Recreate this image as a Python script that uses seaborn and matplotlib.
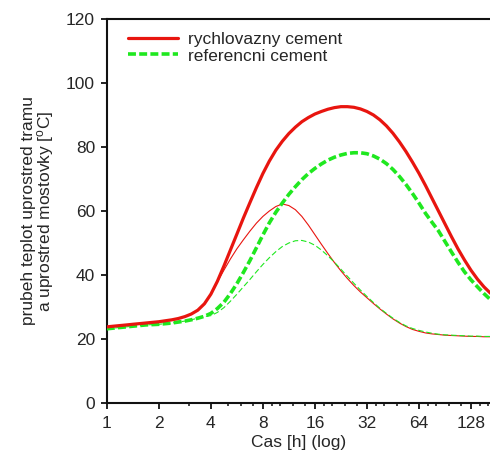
import matplotlib
matplotlib.use("Agg")
import matplotlib.pyplot as plt
from matplotlib.ticker import FixedLocator, NullFormatter
import seaborn as sns
import pandas as pd

# time samples [h], eight per doubling
hours = [1, 1.09, 1.19, 1.30, 1.41, 1.54, 1.68, 1.83,
         2, 2.18, 2.38, 2.59, 2.83, 3.08, 3.36, 3.67,
         4, 4.36, 4.76, 5.19, 5.66, 6.17, 6.73, 7.34,
         8, 8.72, 9.51, 10.37, 11.31, 12.34, 13.45, 14.67,
         16, 17.45, 19.03, 20.75, 22.63, 24.68, 26.91, 29.34,
         32, 34.9, 38.05, 41.5, 45.25, 49.35, 53.82, 58.69,
         64, 69.8, 76.1, 83.0, 90.5, 98.7, 107.6, 117.4,
         128, 139.6, 152.2, 166]

# temperature in the middle of the beam [degC]
rapid_beam = [23.8, 24.0, 24.2, 24.4, 24.6, 24.8, 25.0, 25.2,
              25.4, 25.7, 26.0, 26.4, 27.0, 27.8, 29.0, 31.0,
              34.0, 38.0, 42.8, 47.8, 52.8, 57.8, 62.6, 67.3,
              71.7, 75.6, 79.0, 81.8, 84.2, 86.2, 87.9, 89.2,
              90.3, 91.1, 91.8, 92.3, 92.6, 92.6, 92.4, 91.9,
              91.1, 90.0, 88.5, 86.6, 84.3, 81.6, 78.6, 75.3,
              71.8, 68.0, 64.0, 60.0, 56.0, 52.0, 48.2, 44.7,
              41.5, 38.7, 36.3, 34.3]
ref_beam = [23.2, 23.4, 23.6, 23.8, 24.0, 24.2, 24.4, 24.5,
            24.6, 24.8, 25.0, 25.3, 25.6, 26.0, 26.5, 27.1,
            28.0, 29.5, 31.5, 34.2, 37.3, 40.8, 44.5, 48.5,
            52.5, 56.3, 59.6, 62.5, 65.2, 67.6, 69.8, 71.7,
            73.3, 74.7, 75.9, 76.8, 77.5, 78.0, 78.2, 78.2,
            77.9, 77.2, 76.2, 74.8, 73.0, 70.8, 68.3, 65.5,
            62.5, 59.3, 56.5, 53.8, 50.5, 47.2, 44.0, 41.0,
            38.5, 36.3, 34.2, 32.3]

# temperature in the middle of the deck slab [degC]
rapid_deck = [23.8, 24.0, 24.2, 24.4, 24.6, 24.8, 25.0, 25.2,
              25.4, 25.7, 26.0, 26.4, 27.0, 27.8, 29.0, 31.0,
              34.0, 37.8, 41.5, 45.0, 48.2, 51.0, 53.7, 56.2,
              58.3, 60.0, 61.4, 62.2, 61.7, 60.4, 58.3, 55.6,
              52.6, 49.6, 46.7, 43.9, 41.3, 38.9, 36.7, 34.7,
              32.9, 31.1, 29.4, 27.8, 26.3, 25.0, 23.9, 23.0,
              22.4, 21.9, 21.6, 21.4, 21.2, 21.1, 21.0, 20.9,
              20.8, 20.8, 20.7, 20.7]
ref_deck = [23.2, 23.4, 23.6, 23.8, 24.0, 24.2, 24.4, 24.5,
            24.6, 24.8, 25.0, 25.3, 25.6, 26.0, 26.5, 27.0,
            27.3, 28.3, 29.8, 31.8, 34.0, 36.3, 38.6, 41.0,
            43.3, 45.4, 47.3, 48.9, 50.0, 50.7, 50.8, 50.3,
            49.3, 47.8, 46.0, 44.0, 41.8, 39.6, 37.4, 35.3,
            33.3, 31.4, 29.6, 28.0, 26.5, 25.2, 24.1, 23.3,
            22.7, 22.2, 21.8, 21.5, 21.3, 21.2, 21.1, 21.0,
            20.9, 20.9, 20.8, 20.8]

legend_labels = ["rychlovazny cement", "referencni cement"]
x_ticks = [1, 2, 4, 8, 16, 32, 64, 128]
x_minor = [3, 5, 6, 7, 9, 10, 12, 14, 18, 20, 24, 28, 36, 40, 48, 56,
           72, 80, 96, 112, 144, 160]
y_ticks = [0, 20, 40, 60, 80, 100, 120]

sns.set_style("ticks")
plt.rcParams["font.family"] = ["Liberation Sans", "DejaVu Sans"]
plt.rcParams["mathtext.fontset"] = "custom"
plt.rcParams["mathtext.rm"] = "Liberation Sans"
plt.rcParams["mathtext.it"] = "Liberation Sans"

df = pd.DataFrame({"t": hours, "rb": rapid_beam, "fb": ref_beam,
                   "rd": rapid_deck, "fd": ref_deck})

red = "#e8150f"
green = "#1fe81f"
green_dash = (0, (2.2, 0.9))

fig = plt.figure(figsize=(4.9, 4.54), dpi=100)
ax = fig.add_axes([0.218, 0.1123, 0.782, 0.8459])

sns.lineplot(data=df, x="t", y="rd", ax=ax, color=red, lw=0.8, zorder=3)
sns.lineplot(data=df, x="t", y="fd", ax=ax, color=green, lw=0.8,
             linestyle=(0, (5, 2.5)), zorder=3)
sns.lineplot(data=df, x="t", y="fb", ax=ax, color=green, lw=2.6,
             linestyle=green_dash, zorder=4)
sns.lineplot(data=df, x="t", y="rb", ax=ax, color=red, lw=2.3, zorder=5)

ax.set_xscale("log", base=2)
ax.set_xlim(1, 165)
ax.set_ylim(0, 120)
ax.xaxis.set_major_locator(FixedLocator(x_ticks))
ax.set_xticklabels([str(v) for v in x_ticks])
ax.xaxis.set_minor_locator(FixedLocator(x_minor))
ax.xaxis.set_minor_formatter(NullFormatter())
ax.set_yticks(y_ticks)

for side in ("left", "top", "bottom"):
    ax.spines[side].set_linewidth(1.5)
    ax.spines[side].set_color("#111111")
ax.spines["right"].set_visible(False)

ax.tick_params(axis="both", which="major", direction="out", length=4,
               width=1.3, color="#111111", labelsize=12.5, pad=4.5)
ax.tick_params(axis="x", which="major", pad=5)
ax.tick_params(axis="x", which="minor", direction="out", length=2.5,
               width=1.1, color="#111111")

ax.set_xlabel("Cas [h] (log)", fontsize=12.5, labelpad=3)
ax.set_ylabel("prubeh teplot uprostred tramu\na uprostred mostovky [$^{\\mathrm{o}}$C]",
              fontsize=12.5, labelpad=7, linespacing=0.95, ha="center")

h_red = plt.Line2D([], [], color=red, lw=2.3)
h_green = plt.Line2D([], [], color=green, lw=2.6, linestyle=green_dash)
ax.legend([h_red, h_green], legend_labels, loc="upper left",
          bbox_to_anchor=(0.045, 0.975), frameon=False, fontsize=12.5,
          handlelength=2.9, handletextpad=0.6, labelspacing=0.07,
          borderaxespad=0, borderpad=0.2)

fig.savefig("out.png", dpi=100)
